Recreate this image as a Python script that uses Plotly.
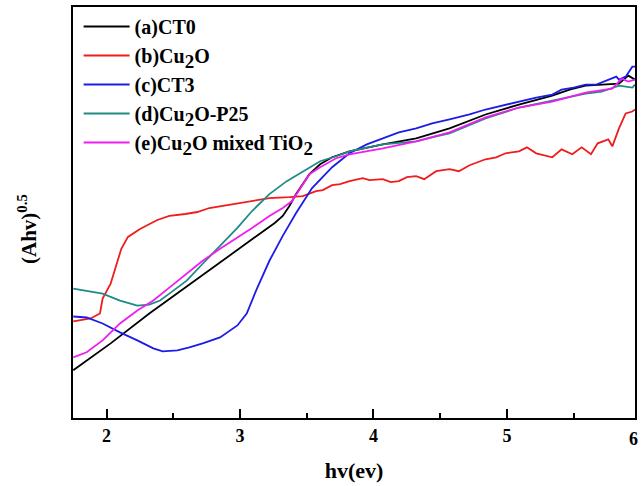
import plotly.graph_objects as go

# ---- data (photon energy in eV, (Ahv)^0.5 in arbitrary units) ----
ct0_x = [1.75, 2.03, 2.32, 2.62, 2.92, 3.15, 3.26, 3.32, 3.37, 3.42, 3.47, 3.52, 3.60, 3.69, 3.82,
         4.07, 4.32, 4.57, 4.84, 5.09, 5.34, 5.47, 5.59, 5.74, 5.84, 5.91, 5.96]
ct0_y = [0.48, 0.75, 1.05, 1.34, 1.63, 1.85, 1.96, 2.03, 2.13, 2.25, 2.35, 2.45, 2.55, 2.62, 2.68,
         2.75, 2.81, 2.91, 3.05, 3.15, 3.24, 3.30, 3.34, 3.35, 3.36, 3.44, 3.40]

cu2o_x = [1.75, 1.88, 1.95, 1.97, 2.03, 2.08, 2.11, 2.16, 2.25, 2.38, 2.47, 2.59, 2.68, 2.77, 2.98,
          3.22, 3.37, 3.47, 3.57, 3.62, 3.69, 3.75, 3.82, 3.92, 3.97, 4.07, 4.13, 4.19, 4.25, 4.32,
          4.38, 4.47, 4.57, 4.64, 4.72, 4.84, 4.92, 4.99, 5.09, 5.15, 5.22, 5.34, 5.41, 5.49, 5.56,
          5.63, 5.68, 5.76, 5.79, 5.84, 5.89, 5.94, 5.96]
cu2o_y = [0.97, 1.00, 1.05, 1.20, 1.35, 1.56, 1.70, 1.82, 1.90, 1.99, 2.03, 2.05, 2.07, 2.11, 2.16,
          2.21, 2.22, 2.23, 2.28, 2.29, 2.34, 2.35, 2.38, 2.41, 2.39, 2.40, 2.37, 2.38, 2.42, 2.43,
          2.40, 2.48, 2.50, 2.48, 2.54, 2.60, 2.62, 2.66, 2.68, 2.72, 2.66, 2.62, 2.70, 2.65, 2.72,
          2.65, 2.76, 2.80, 2.73, 2.91, 3.06, 3.08, 3.10]

ct3_x = [1.75, 1.85, 1.97, 2.10, 2.23, 2.35, 2.42, 2.53, 2.62, 2.72, 2.85, 2.98, 3.05, 3.12, 3.22,
         3.32, 3.42, 3.54, 3.69, 3.82, 3.95, 4.07, 4.19, 4.32, 4.44, 4.57, 4.72, 4.84, 4.96, 5.09,
         5.22, 5.34, 5.41, 5.50, 5.59, 5.67, 5.74, 5.82, 5.84, 5.89, 5.94, 5.96]
ct3_y = [1.02, 1.01, 0.95, 0.86, 0.78, 0.70, 0.67, 0.68, 0.71, 0.75, 0.81, 0.93, 1.05, 1.28, 1.58,
         1.83, 2.06, 2.31, 2.52, 2.66, 2.75, 2.81, 2.87, 2.91, 2.96, 3.00, 3.05, 3.10, 3.14, 3.18,
         3.22, 3.25, 3.30, 3.32, 3.35, 3.35, 3.39, 3.43, 3.40, 3.43, 3.53, 3.53]

p25_x = [1.75, 1.85, 1.97, 2.10, 2.23, 2.32, 2.40, 2.47, 2.60, 2.72, 2.85, 2.98, 3.09, 3.22, 3.35,
         3.47, 3.60, 3.72, 3.82, 4.07, 4.32, 4.47, 4.57, 4.84, 5.09, 5.34, 5.59, 5.71, 5.84, 5.94, 5.96]
p25_y = [1.30, 1.28, 1.25, 1.18, 1.13, 1.14, 1.18, 1.25, 1.38, 1.55, 1.73, 1.91, 2.08, 2.25, 2.38,
         2.48, 2.58, 2.63, 2.68, 2.75, 2.78, 2.83, 2.86, 3.01, 3.12, 3.19, 3.26, 3.28, 3.34, 3.32, 3.35]

mix_x = [1.75, 1.85, 1.97, 2.10, 2.23, 2.35, 2.47, 2.60, 2.72, 2.85, 2.98, 3.09, 3.22, 3.32, 3.39,
         3.45, 3.52, 3.60, 3.72, 3.82, 4.07, 4.32, 4.57, 4.84, 5.09, 5.34, 5.59, 5.79, 5.86, 5.91, 5.96]
mix_y = [0.61, 0.66, 0.78, 0.95, 1.08, 1.18, 1.31, 1.45, 1.58, 1.70, 1.81, 1.91, 2.03, 2.11, 2.18,
         2.31, 2.45, 2.52, 2.61, 2.65, 2.71, 2.78, 2.87, 3.02, 3.12, 3.18, 3.27, 3.31, 3.41, 3.38, 3.40]

SUB2 = "<sub><span style='font-size:19px'>2</span></sub>"
series_names = ["(a)CT0", "(b)Cu" + SUB2 + "O", "(c)CT3", "(d)Cu" + SUB2 + "O-P25",
                "(e)Cu" + SUB2 + "O mixed TiO" + SUB2]
series_colors = ["#000000", "#f01c1c", "#1c1ce8", "#1f8c84", "#f01cf0"]
x_ticks = [2, 3, 4, 5, 6]
X_MIN, X_MAX = 1.748, 5.96

FONT = "Liberation Serif"

fig = go.Figure()
for name, xs, ys, col in zip(series_names,
                             [ct0_x, cu2o_x, ct3_x, p25_x, mix_x],
                             [ct0_y, cu2o_y, ct3_y, p25_y, mix_y],
                             series_colors):
    fig.add_trace(go.Scatter(x=xs, y=ys, mode="lines", name="<b>" + name + "</b>",
                             line=dict(color=col, width=1.8)))

fig.update_layout(
    width=642, height=486,
    margin=dict(l=73, r=6, t=5, b=68),
    paper_bgcolor="white", plot_bgcolor="white",
    font=dict(family=FONT, size=17, color="black"),
    showlegend=True,
    legend=dict(x=0.01, y=1.0, xanchor="left", yanchor="top",
                bgcolor="rgba(0,0,0,0)", font=dict(family=FONT, size=20, color="black"),
                tracegroupgap=0, itemwidth=46),
)
fig.update_xaxes(range=[X_MIN, X_MAX], tickvals=x_ticks,
                 ticktext=["<b>%d</b>" % v for v in x_ticks],
                 ticks="inside", ticklen=9, tickwidth=2, tickcolor="black",
                 minor=dict(tickvals=[2.5, 3.5, 4.5, 5.5], ticks="inside", ticklen=5,
                            tickwidth=2, tickcolor="black"),
                 showline=True, linecolor="black", linewidth=2, mirror=True,
                 showgrid=False, zeroline=False,
                 tickfont=dict(family=FONT, size=18, color="black"),
                 title=dict(text="<b>hv(ev)</b>", font=dict(family=FONT, size=22), standoff=18))
fig.update_yaxes(range=[0, 4.13], showticklabels=False, ticks="",
                 showline=True, linecolor="black", linewidth=2, mirror=True,
                 showgrid=False, zeroline=False)

# y-axis title
fig.add_annotation(text="<b>(Ahv)<sup>0.5</sup></b>", xref="paper", yref="paper",
                   x=-0.08, y=0.46, xanchor="center", yanchor="middle", textangle=-90,
                   showarrow=False, font=dict(family=FONT, size=21, color="black"))
# tick label "6" sits just past the right frame
fig.add_annotation(text="<b>6</b>", xref="paper", x=(6 - X_MIN) / (X_MAX - X_MIN),
                   yref="paper", y=0, yanchor="top", yshift=-9, showarrow=False,
                   font=dict(family=FONT, size=18, color="black"))

fig.write_html("out.html")
